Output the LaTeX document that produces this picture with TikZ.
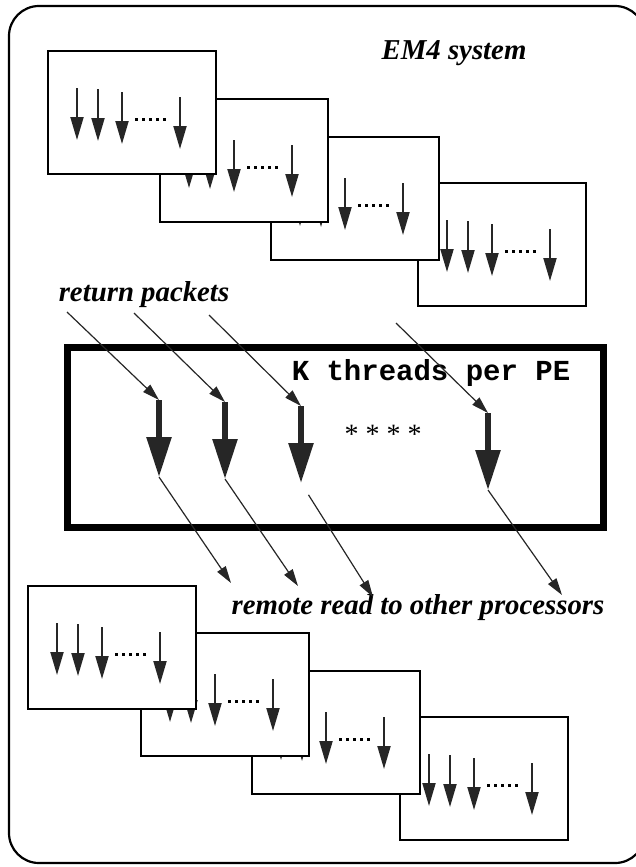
\documentclass[tikz,border=0pt]{standalone}
\usepackage{fontspec}
\setmainfont{Liberation Serif}
\setmonofont{Liberation Mono}
\usetikzlibrary{arrows.meta}

\tikzset{
  minorthr/.style={line width=1pt, black!85, -{Triangle[length=11.5pt,width=6.5pt]}},
  mainthr/.style={line width=2.8pt, black!85, -{Triangle[length=20pt,width=12pt]}},
  packet/.style={line width=0.6pt, black!85, -{Triangle[length=8.5pt,width=5pt]}},
  caption/.style={font=\fontsize{14.4}{17}\selectfont\bfseries\itshape, inner sep=0pt},
  pebox/.pic={
    \draw[line width=1pt, fill=white] (0,0) rectangle (168,123);
    \foreach \dx/\dy in {29/37, 50/38, 74/41, 132/46}
      \draw[minorthr] (\dx,\dy) -- ++(0,52);
    \foreach \k in {0,...,4}
      \fill (87+\k*7,66.5) rectangle ++(3.2,3.2);
  }
}

\begin{document}
\begin{tikzpicture}[x=0.5pt, y=-0.5pt]
  \useasboundingbox (0,0) rectangle (636,867);
  \draw[line width=1.1pt, rounded corners=15pt] (9,6) rectangle (645,863);

  % processors, upper row
  \pic at (418,183) {pebox};
  \pic at (271,137) {pebox};
  \pic at (160,99) {pebox};
  \pic at (48,51) {pebox};

  % processors, lower row
  \pic at (400,717) {pebox};
  \pic at (252,671) {pebox};
  \pic at (141,633) {pebox};
  \pic at (28,586) {pebox};

  \node[caption] (em4) at (454,53) {EM4 system};
  \node[caption] (ret) at (144,295) {return packets};
  \node[caption] (remote) at (418,608) {remote read to other processors};

  % one PE
  \draw[line width=3.5pt] (67,347) rectangle (603,527);
  \node[font=\fontsize{14.5}{17}\selectfont\ttfamily\bfseries, inner sep=0pt] (kthr) at (431,373) {K threads per PE};
  \node[font=\fontsize{14}{17}\selectfont, inner sep=0pt] (stars) at (383,434) {* * * *};

  \foreach \i/\x/\y/\sx/\sy/\ex/\ey in {1/159/400/67/312/231/583,
      2/225/402/134/313/298/586, 3/301/406/209/315/373/597,
      4/488/413/396/323/562/595} {
    \coordinate (rp\i) at (\sx,\sy);
    \coordinate (rr\i) at (\ex,\ey);
    \draw[mainthr] (\x,\y) coordinate (top\i) -- ++(0,77) coordinate (tip\i);
    \draw[packet] (rp\i) -- (top\i);
  }
  \draw[packet] (tip1) -- (rr1);
  \draw[packet] (tip2) -- (rr2);
  \draw[packet, shorten <=7pt] (tip3) -- (rr3);
  \draw[packet] (tip4) -- (rr4);
\end{tikzpicture}
\end{document}
